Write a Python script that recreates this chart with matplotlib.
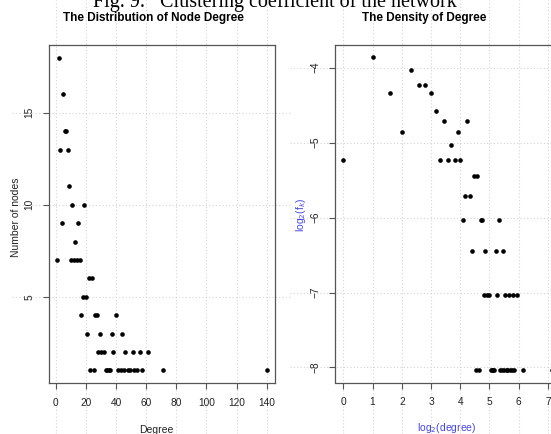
import numpy as np
import matplotlib
matplotlib.use("Agg")
import matplotlib.pyplot as plt

# degree -> number of nodes with that degree
degree = [1, 2, 3, 4, 5, 6, 7, 8, 9, 10, 11, 12, 13, 14, 15, 16, 17, 18, 19, 20,
          21, 22, 23, 24, 25, 26, 27, 28, 29, 30, 32, 33, 34, 35, 36, 37, 38, 40,
          41, 43, 44, 45, 46, 48, 49, 51, 52, 54, 56, 57, 61, 71, 140]
nodes = [7, 18, 13, 9, 16, 14, 14, 13, 11, 7, 10, 7, 8, 7, 9, 7, 4, 5, 10, 5,
         3, 6, 1, 6, 1, 4, 4, 2, 3, 2, 2, 1, 1, 1, 1, 3, 2, 4,
         1, 1, 3, 1, 2, 1, 1, 2, 1, 1, 2, 1, 2, 1, 1]

left_xticks = [0, 20, 40, 60, 80, 100, 120, 140]
left_yticks = [5, 10, 15]
right_xticks = [0, 1, 2, 3, 4, 5, 6, 7]
right_yticks = [-4, -5, -6, -7, -8]

deg = np.array(degree, dtype=float)
cnt = np.array(nodes, dtype=float)
log_deg = np.log2(deg)
log_fk = np.log2(cnt / cnt.sum())

W, H = 551, 434
narrow = ["Liberation Sans Narrow", "Liberation Sans", "DejaVu Sans"]
plt.rcParams["font.family"] = narrow

fig = plt.figure(figsize=(W / 100, H / 100), dpi=100)

def px_axes(l, t, r, b):
    return fig.add_axes([l / W, 1 - b / H, (r - l) / W, (b - t) / H])

ax1 = px_axes(49, 45, 275, 383)
ax2 = px_axes(335, 45, 560, 382.5)

gridc = "#d4d4d4"
spc = "#555555"

def style(ax, xticks, yticks, hx0, hx1):
    for s in ax.spines.values():
        s.set_color(spc)
        s.set_linewidth(0.9)
    ax.set_xticks(xticks)
    ax.set_yticks(yticks)
    ax.tick_params(direction="out", length=4.5, width=0.8, color=spc,
                   labelsize=7.3, labelcolor="#222222", pad=6)
    for lab in ax.get_yticklabels():
        lab.set_rotation(90)
        lab.set_va("center")
    # grid lines running past the plot region, like in the original
    bb = ax.get_position()
    l, r = bb.x0 * W, bb.x1 * W
    t, b = (1 - bb.y1) * H, (1 - bb.y0) * H
    for x in xticks:
        ax.axvline(x, ymin=(b - H) / (b - t), ymax=b / (b - t), color=gridc,
                   lw=0.8, ls=(0, (1, 2)), clip_on=False, zorder=0)
    for y in yticks:
        ax.axhline(y, xmin=(hx0 - l) / (r - l), xmax=(hx1 - l) / (r - l),
                   color=gridc, lw=0.8, ls=(0, (1, 2)), clip_on=False, zorder=0)

# left panel
ax1.scatter(deg, cnt, s=11, color="black", zorder=3, linewidths=0)
ax1.set_xlim(1 - 0.04 * 139, 140 + 0.04 * 139)
ax1.set_ylim(1 - 0.04 * 17, 18 + 0.04 * 17)
style(ax1, left_xticks, left_yticks, 12, 290)

# right panel
ax2.scatter(log_deg, log_fk, s=11, color="black", zorder=3, linewidths=0)
rx = log_deg.max() - log_deg.min()
ry = log_fk.max() - log_fk.min()
ax2.set_xlim(log_deg.min() - 0.04 * rx, log_deg.max() + 0.04 * rx)
ax2.set_ylim(log_fk.min() - 0.04 * ry, log_fk.max() + 0.04 * ry)
style(ax2, right_xticks, right_yticks, 290, 560)

# text
fig.text(275 / W, 1 - 7 / H, "Fig. 9.   Clustering coefficient of the network",
         ha="center", va="baseline", fontsize=14.5, family="Liberation Serif")
fig.text(153 / W, 1 - 18 / H, "The Distribution of Node Degree", ha="center",
         va="center", fontsize=8.5, fontweight="bold")
fig.text(424 / W, 1 - 18 / H, "The Density of Degree", ha="center",
         va="center", fontsize=8.5, fontweight="bold")
fig.text(156 / W, 1 - 430 / H, "Degree", ha="center", va="center",
         fontsize=7.5, color="#222222")
fig.text(16 / W, 1 - 217 / H, "Number of nodes", ha="center", va="center",
         rotation=90, fontsize=7.5, color="#222222")
blue = "#4646e6"
fig.text(447 / W, 1 - 428 / H, r"log$_2$(degree)", ha="center", va="center",
         fontsize=7.5, color=blue)
fig.text(301 / W, 1 - 215 / H, r"log$_2$(f$_k$)", ha="center", va="center",
         rotation=90, fontsize=7.5, color=blue)

fig.savefig("out.png", dpi=100)
